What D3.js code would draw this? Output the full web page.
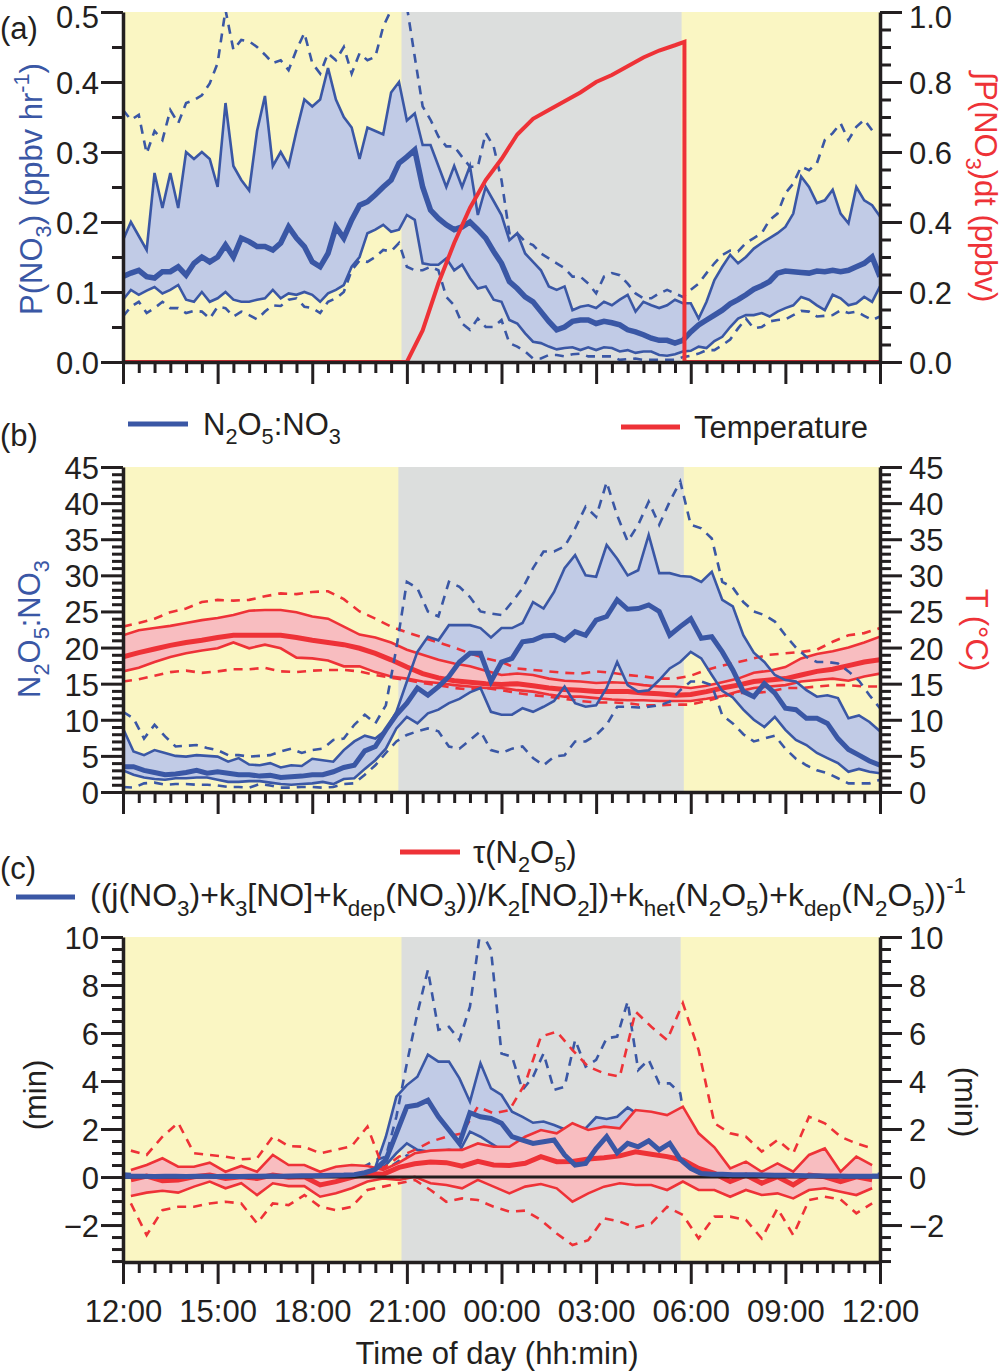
<!DOCTYPE html>
<html>
<head>
<meta charset="utf-8">
<script src="https://cdn.jsdelivr.net/npm/d3@7"></script>
<style>
  body { margin: 0; background: #fff; }
  text { font-family: "Liberation Sans", Arial, sans-serif; }
</style>
</head>
<body>
<svg id="chart" width="1002" height="1371"></svg>
<script>
// ---- x axis: hours after 12:00 -------------------------------------------
const hourTicks = d3.range(49).map(i => i / 2);
const hourLabels = ['12:00', '15:00', '18:00', '21:00', '00:00', '03:00', '06:00', '09:00', '12:00'];

// ---- (a) P(NO3), 15 min medians and percentiles ---------------------------
const pHours = d3.range(97).map(i => i / 4);
const pP10 = [0.065,0.079,0.086,0.07,0.077,0.086,0.077,0.077,0.07,0.073,0.072,0.062,0.079,0.077,0.065,0.072,0.067,0.061,0.072,0.081,0.08,0.089,0.091,0.079,0.077,0.07,0.086,0.091,0.1,0.131,0.145,0.143,0.15,0.16,0.158,0.17,0.136,0.131,0.131,0.136,0.131,0.093,0.081,0.055,0.046,0.062,0.05,0.05,0.06,
  0.027,0.022,0.015,0.005,0.005,0.01,0.01,0.008,0.011,0.012,0.008,0.008,0.008,0.008,0.003,0.004,0.005,0.003,0.003,0.003,0.003,0.003,0.007,0.009,0.012,0.017,0.017,0.024,0.032,0.048,0.062,0.048,0.05,0.058,0.06,0.061,0.067,0.073,0.072,0.065,0.066,0.067,0.074,0.07,0.072,0.066,0.06,0.065];
const pP25 = [0.089,0.103,0.096,0.102,0.107,0.098,0.103,0.11,0.089,0.086,0.1,0.086,0.091,0.1,0.089,0.086,0.086,0.089,0.091,0.103,0.091,0.098,0.096,0.1,0.096,0.086,0.098,0.103,0.11,0.136,0.15,0.184,0.189,0.196,0.186,0.189,0.21,0.203,0.141,0.139,0.139,0.148,0.131,0.139,0.12,0.105,0.108,0.089,0.086,
  0.06,0.055,0.041,0.029,0.027,0.022,0.018,0.02,0.021,0.017,0.021,0.017,0.021,0.02,0.015,0.017,0.013,0.015,0.015,0.01,0.009,0.011,0.015,0.016,0.022,0.02,0.03,0.036,0.05,0.062,0.067,0.067,0.07,0.065,0.072,0.077,0.081,0.093,0.089,0.081,0.074,0.096,0.091,0.081,0.084,0.093,0.086,0.108];
const pMed = [0.122,0.127,0.131,0.122,0.12,0.129,0.129,0.136,0.124,0.141,0.15,0.143,0.15,0.167,0.15,0.177,0.172,0.165,0.165,0.16,0.17,0.193,0.177,0.165,0.143,0.136,0.155,0.193,0.177,0.203,0.224,0.229,0.239,0.25,0.26,0.284,0.293,0.303,0.25,0.217,0.205,0.196,0.189,0.193,0.2,0.189,0.177,0.158,0.141,
  0.115,0.105,0.093,0.086,0.072,0.058,0.046,0.05,0.058,0.06,0.06,0.055,0.058,0.056,0.053,0.046,0.043,0.039,0.034,0.031,0.031,0.027,0.031,0.043,0.053,0.06,0.067,0.074,0.083,0.089,0.096,0.104,0.109,0.115,0.127,0.13,0.129,0.128,0.127,0.13,0.129,0.131,0.129,0.131,0.136,0.141,0.15,0.122];
const pP75 = [0.174,0.2,0.18,0.16,0.27,0.22,0.27,0.22,0.3,0.29,0.3,0.29,0.25,0.37,0.28,0.26,0.245,0.33,0.38,0.28,0.3,0.28,0.33,0.375,0.365,0.375,0.42,0.375,0.35,0.335,0.29,0.335,0.33,0.325,0.385,0.4,0.345,0.355,0.31,0.31,0.28,0.25,0.28,0.25,0.28,0.21,0.25,0.23,0.21,
  0.174,0.184,0.155,0.143,0.131,0.108,0.103,0.108,0.074,0.079,0.081,0.077,0.086,0.081,0.089,0.096,0.072,0.086,0.081,0.077,0.081,0.089,0.084,0.084,0.062,0.086,0.117,0.136,0.153,0.141,0.15,0.162,0.17,0.177,0.184,0.193,0.212,0.265,0.25,0.227,0.231,0.246,0.212,0.198,0.25,0.231,0.224,0.208];
const pP90 = [0.36,0.346,0.353,0.298,0.33,0.317,0.36,0.341,0.37,0.374,0.381,0.398,0.427,0.503,0.446,0.46,0.458,0.45,0.439,0.427,0.431,0.417,0.446,0.47,0.427,0.412,0.441,0.431,0.45,0.412,0.441,0.431,0.436,0.479,0.503,0.527,0.508,0.436,0.365,0.346,0.322,0.308,0.308,0.293,0.279,0.279,0.327,0.308,0.26,
  0.184,0.184,0.172,0.167,0.155,0.148,0.141,0.134,0.122,0.122,0.112,0.098,0.122,0.127,0.124,0.112,0.098,0.091,0.091,0.098,0.103,0.098,0.093,0.103,0.112,0.127,0.141,0.153,0.159,0.158,0.17,0.177,0.184,0.203,0.212,0.241,0.255,0.279,0.274,0.284,0.317,0.327,0.341,0.317,0.336,0.346,0.331,0.331];
// integrated P(NO3) over the night (right axis)
const integHours = [0, 9, 9.5, 10, 10.5, 11, 11.5, 12, 12.5, 13, 13.5, 14, 14.5, 15, 15.5, 16, 16.5, 17, 17.5, 17.8, 17.8, 24];
const integVals = [0, 0, 0.09, 0.225, 0.34, 0.44, 0.52, 0.58, 0.65, 0.695, 0.72, 0.745, 0.77, 0.8, 0.82, 0.845, 0.87, 0.89, 0.905, 0.915, 0, 0];

// ---- (b) N2O5:NO3 ratio (20 min) and temperature (30 min) ----------------
const rHours = d3.range(73).map(i => i / 3);
const rP10 = [0.7,0.6,1.2,1.3,1.0,1.1,1.1,1.0,1.0,0.9,0.7,0.7,0.6,1.1,0.9,0.6,0.6,0.7,0.7,0.6,0.7,1.1,1.2,2.4,3.7,5.4,7.0,7.9,8.4,8.8,8.4,6.3,6.0,7.2,8.4,5.8,5.4,
  6.0,6.3,4.7,3.7,4.9,5.1,7.0,7.0,7.9,9.3,11.8,11.8,11.7,11.8,12.0,12.5,14.1,15.3,15.3,14.8,10.6,9.5,8.0,7.0,7.4,7.8,6.0,4.6,3.7,3.0,2.6,1.9,1.2,1.2,1.2,1.7];
const rP25 = [3.0,2.4,2.0,1.8,1.7,1.9,1.9,2.0,2.0,1.7,1.4,1.4,1.5,1.5,1.3,1.1,1.0,1.1,1.2,1.4,1.1,1.8,1.9,3.2,4.4,6.0,8.8,10.4,9.5,10.9,11.4,12.3,12.9,13.8,14.4,11.1,10.7,
  10.7,11.6,11.1,11.8,12.6,14.6,12.3,11.8,12.0,14.4,18.0,14.8,13.9,14.1,15.5,17.1,18.0,19.4,18.5,16.2,14.0,13.1,11.4,10.0,9.0,10.4,8.6,7.2,6.5,5.4,4.7,4.0,2.8,3.2,2.8,2.6];
const rMed = [3.5,3.5,3.0,2.7,2.4,2.5,2.7,3.0,2.6,2.8,2.6,2.4,2.4,2.2,2.3,2.0,2.1,2.2,2.4,2.4,2.8,3.4,3.7,5.7,6.3,8.6,10.7,12.3,14.4,13.4,14.6,16.0,18.0,19.2,19.2,15.3,18.0,
  18.5,20.8,21.0,21.6,21.7,21.0,22.2,21.7,23.8,24.3,26.6,25.3,25.4,25.9,25.0,21.7,22.9,24.0,21.3,21.5,19.4,16.9,13.9,13.2,15.0,13.7,11.6,11.4,10.2,10.2,9.5,7.4,5.9,5.1,4.3,3.7];
const rP75 = [8.8,5.6,5.1,5.8,5.4,5.0,4.9,5.1,5.0,4.9,4.2,4.7,3.8,3.7,4.0,3.4,3.7,3.6,4.6,4.4,4.2,5.8,7.0,7.8,7.4,8.6,11.1,15.3,19.4,21.5,21.0,23.1,23.1,23.1,22.7,21.4,22.7,
  22.7,23.4,26.3,25.4,27.7,31.0,32.8,30.0,29.8,34.2,32.3,30.0,30.7,35.6,30.3,30.3,29.9,29.8,29.1,30.5,26.6,25.7,21.7,19.3,18.0,16.2,15.5,15.3,14.1,13.2,13.4,13.0,10.2,10.6,9.7,8.4];
const rP90 = [11.1,10.2,7.4,9.3,7.7,6.3,6.4,6.5,6.1,5.8,5.1,5.1,4.9,5.0,5.1,5.6,6.0,5.4,5.8,6.0,7.2,7.4,9.3,10.7,9.5,12.0,19.9,29.1,28.2,25.0,24.3,29.1,28.4,27.0,25.0,24.7,24.5,
  26.3,28.2,31.0,33.3,33.3,34.0,36.5,39.5,38.1,42.9,38.3,34.7,37.0,40.2,37.0,40.2,43.0,37.0,36.5,35.1,29.1,28.3,26.3,25.0,24.5,23.6,21.7,20.0,18.7,18.0,18.0,17.8,16.7,15.4,13.4,11.6];

const tHours = d3.range(49).map(i => i / 2);
const tP10 = [15.3,15.6,16.1,16.6,16.8,16.5,16.7,17.0,17.0,17.2,16.7,16.6,16.8,16.9,16.9,16.7,16.2,15.8,15.5,15.1,14.8,14.4,14.2,14.4,14.1,
  13.7,13.4,13.2,12.9,12.6,12.4,12.4,12.3,12.0,12.0,12.1,12.1,12.6,13.2,13.7,13.7,13.9,14.4,14.4,14.6,14.8,14.8,14.6,14.6];
const tP25 = [16.7,17.2,18.0,18.7,19.2,19.6,19.9,20.7,19.9,20.4,19.9,18.6,18.5,18.2,17.4,17.4,16.6,16.0,15.7,15.3,15.1,14.8,14.6,14.4,14.4,
  14.1,13.9,13.5,13.2,13.2,13.0,12.8,12.7,12.7,12.6,12.6,12.6,12.9,13.3,13.9,14.4,14.6,14.8,15.3,15.5,15.7,15.4,16.0,16.4];
const tMed = [18.7,19.3,19.8,20.3,20.7,21.0,21.4,21.7,21.7,21.7,21.7,21.4,21.0,20.7,20.4,19.9,19.2,18.3,17.3,16.4,15.8,15.4,15.2,15.0,14.9,
  15.0,14.7,14.4,14.2,14.1,13.9,13.9,13.9,13.7,13.6,13.4,13.5,13.9,14.4,14.8,15.3,15.5,15.7,16.2,16.7,17.0,17.5,18.0,18.3];
const tP75 = [21.7,22.4,22.7,23.0,23.4,23.8,24.1,24.5,25.1,25.2,25.2,24.9,24.3,24.0,22.9,21.8,21.4,20.7,19.7,19.0,18.3,17.8,17.4,16.8,16.2,
  16.4,16.2,15.7,15.4,15.3,15.1,15.2,15.1,14.8,14.6,14.6,14.4,14.7,15.2,15.7,16.5,16.8,17.3,18.5,19.1,19.5,20.0,20.7,21.5];
const tP90 = [22.9,23.4,24.0,24.9,25.4,26.3,26.6,26.5,26.6,27.1,27.5,27.4,27.7,27.8,26.7,25.0,24.0,22.9,22.1,21.4,20.7,20.0,19.2,18.5,18.0,
  17.1,16.9,16.7,16.5,16.4,16.7,16.5,16.2,16.0,15.7,15.7,16.1,16.9,17.5,18.0,18.5,19.0,19.2,19.4,19.7,20.8,21.7,22.0,22.7];

// ---- (c) steady-state lifetime (20 min) and tau(N2O5) (30 min) -----------
const lHours = d3.range(73).map(i => i / 3);
const lP10 = [-0.02,-0.02,-0.03,-0.02,-0.02,-0.03,-0.02,-0.02,-0.03,-0.02,-0.02,-0.02,-0.02,-0.02,-0.01,-0.02,-0.01,-0.01,0,0,0.01,0.02,
  0.03,0.05,0.08,0.3,0.6,0.9,0.8,0.8,0.7,0.7,0.6,0.9,0.8,0.7,0.6,0.5,0.45,0.4,0.4,0.35,0.25,0.15,0.15,0.25,0.4,0.3,0.35,0.3,0.35,0.3,0.25,0.15,0.08,
  0.03,0.02,0.02,0.01,0.01,0,0,0,0,-0.01,-0.01,-0.01,-0.01,-0.01,-0.01,-0.01,-0.01,-0.01];
const lP25 = [0,0,0,-0.01,0,0,0,0,0,0,0,0,0,0,0.01,0,0.01,0.01,0.02,0.02,0.03,0.04,
  0.06,0.09,0.15,0.5,0.99,1.4,1.13,1.06,1.06,1.13,1.06,1.89,1.68,1.4,1.13,0.99,0.9,0.8,0.8,0.7,0.5,0.3,0.3,0.5,0.8,0.6,0.7,0.6,0.7,0.6,0.5,0.3,0.15,
  0.06,0.05,0.05,0.04,0.04,0.03,0.03,0.03,0.02,0.02,0.02,0.02,0.01,0.01,0.01,0.01,0.01,0.01];
const lMed = [0.04,0.03,0.03,0.02,0.03,0.03,0.02,0.03,0.03,0.02,0.03,0.02,0.03,0.03,0.04,0.03,0.04,0.05,0.05,0.06,0.07,0.08,
  0.1,0.18,0.32,0.71,1.82,2.93,3.0,3.2,2.51,1.96,1.4,2.68,2.51,2.44,2.24,1.68,1.54,1.4,1.47,1.54,0.92,0.5,0.57,1.19,1.68,1.01,1.4,1.26,1.51,1.13,1.4,0.74,0.36,
  0.15,0.12,0.12,0.1,0.1,0.09,0.08,0.07,0.07,0.06,0.05,0.05,0.04,0.04,0.03,0.03,0.03,0.03];
const lP75 = [0.08,0.07,0.06,0.07,0.06,0.06,0.07,0.06,0.07,0.06,0.07,0.06,0.07,0.08,0.08,0.07,0.08,0.09,0.1,0.1,0.12,0.13,
  0.15,0.22,0.4,1.68,3.35,3.83,4.18,5.1,4.81,4.81,4.11,3.14,4.74,3.69,3.42,2.72,2.51,2.26,2.31,2.17,1.99,2.1,2.03,2.49,2.42,2.51,2.9,2.6,2.5,2.4,2.3,1.6,0.7,
  0.3,0.25,0.22,0.2,0.2,0.18,0.17,0.15,0.14,0.13,0.12,0.11,0.1,0.1,0.09,0.09,0.08,0.08];
const lP90 = [0.15,0.12,0.1,0.12,0.1,0.11,0.1,0.12,0.1,0.11,0.12,0.1,0.12,0.13,0.14,0.13,0.15,0.16,0.18,0.2,0.22,0.25,
  0.3,0.45,0.7,0.85,2.51,4.74,6.82,8.63,6.13,6.26,5.71,7.1,10.3,9.46,5.15,5.01,3.63,4.18,5.15,3.63,3.76,5.71,4.6,4.88,5.78,5.85,7.31,4.46,4.88,3.9,3.9,3.49,0.85,
  0.5,0.4,0.35,0.3,0.3,0.28,0.25,0.22,0.2,0.2,0.18,0.17,0.16,0.15,0.15,0.14,0.13,0.13];

const tauHours = d3.range(48).map(i => 0.25 + i / 2);
const tauP10 = [-1.1,-2.42,-1.38,-1.24,-1.24,-1.1,-1.03,-1.1,-1.93,-1.1,-1.17,-0.75,-1.24,-1.38,-1.24,-0.54,-0.4,-0.26,-0.12,-0.54,-1.03,-0.89,-0.96,-1.24,
  -1.44,-1.4,-1.79,-2.35,-2.83,-2.63,-1.72,-1.86,-2.1,-1.93,-1.24,-1.58,-2.56,-1.65,-1.65,-1.79,-2.56,-1.31,-2.42,-0.96,-0.82,-0.93,-1.51,-1.1];
const tauP25 = [-0.79,-0.65,-0.57,-0.65,-0.4,-0.19,-0.47,-0.26,-0.75,-0.26,-0.38,-0.38,-0.82,-0.68,-0.47,-0.19,-0.06,-0.12,0.01,-0.26,-0.33,-0.47,-0.12,-0.4,
  -0.68,-0.4,-0.29,-0.47,-1.03,-0.68,-0.4,-0.26,-0.33,-0.33,-0.54,-0.19,-0.54,-0.54,-0.82,-0.54,-0.75,-0.68,-0.89,-0.54,-0.47,-0.61,-0.75,-0.47];
const tauMed = [-0.12,0.04,-0.15,-0.12,0.01,0.08,-0.06,0.01,-0.06,0.08,-0.01,0.01,-0.33,-0.19,-0.01,0.15,0.12,0.4,0.55,0.63,0.6,0.45,0.65,0.5,
  0.48,0.57,0.85,0.64,0.65,0.75,0.8,0.88,1.05,0.95,0.85,0.71,0.36,0.15,-0.19,0.08,-0.26,0.01,-0.33,0.08,0.01,-0.19,0.01,-0.12];
const tauP75 = [0.29,0.5,0.78,0.43,0.43,0.6,0.22,0.46,0.22,0.92,0.5,0.5,0.22,0.43,0.5,0.46,0.3,0.6,0.99,1.1,1.13,1.13,1.4,1.26,
  1.26,1.68,1.96,1.82,2.24,1.96,2.1,2.03,2.79,2.72,2.58,2.93,1.82,1.24,0.36,0.64,0.22,0.57,0.22,0.92,1.19,0.22,0.85,0.5];
const tauP90 = [1.1,0.92,1.68,2.26,0.99,0.92,0.85,0.74,0.78,1.68,1.29,1.26,0.99,1.13,1.29,2.1,0.36,0.85,1.13,1.47,1.68,1.82,2.93,2.65,
  2.79,3.9,5.85,6.06,5.29,4.6,4.32,4.18,6.89,6.26,5.71,7.24,5.29,2.24,1.82,1.68,1.06,1.54,0.99,2.51,2.24,1.68,1.4,1.19];

// ---- styling -----------------------------------------------------------
const INK = '#231f20';
const BLUE = '#3a57a5', BLUE_FILL = '#c1cbe6';
const RED = '#ee3237', RED_FILL = '#f8bdc0';
const DAY = '#faf6c3', NIGHT = '#dcdedd';
const FS = 31;

const svg = d3.select('#chart');
const X0 = 123, X1 = 880;
const x = d3.scaleLinear().domain([0, 24]).range([X0, X1]);

/**
 * Writes text with sub/superscript parts into a text element.
 * @param {d3.Selection} sel - text element
 * @param {Array} parts - [string, 'sub' | 'sup' | ''] pairs
 * @param {number} size - base font size
 */
function richText(sel, parts, size) {
    let shift = 0;
    parts.forEach(([str, mode]) => {
        const target = mode === 'sub' ? 0.3 * size : mode === 'sup' ? -0.42 * size : 0;
        const t = sel.append('tspan').text(str).attr('dy', target - shift);
        if (mode) t.attr('font-size', size * 0.7);
        shift = target;
    });
    return sel;
}

function label(x0, y0, parts, opts = {}) {
    const size = opts.size || FS;
    const t = svg.append('text')
        .attr('transform', `translate(${x0},${y0})` + (opts.rotate ? ` rotate(${opts.rotate})` : ''))
        .attr('font-size', size)
        .attr('fill', opts.color || INK)
        .attr('text-anchor', opts.anchor || 'start');
    return richText(t, parts, size);
}

function panel(id, top, bottom, night) {
    svg.append('clipPath').attr('id', 'clip-' + id)
        .append('rect').attr('x', X0).attr('y', top).attr('width', X1 - X0).attr('height', bottom - top);
    svg.append('rect').attr('x', X0).attr('y', top).attr('width', X1 - X0).attr('height', bottom - top).attr('fill', DAY);
    svg.append('rect').attr('x', x(night[0])).attr('y', top).attr('width', x(night[1]) - x(night[0]))
        .attr('height', bottom - top).attr('fill', NIGHT);
    return svg.append('g').attr('clip-path', `url(#clip-${id})`);
}

function band(g, hours, lo, hi, y, fill) {
    g.append('path').datum(d3.range(hours.length))
        .attr('d', d3.area().x(i => x(hours[i])).y0(i => y(lo[i])).y1(i => y(hi[i])))
        .attr('fill', fill);
}

function series(g, hours, vals, y, color, width, dashed) {
    g.append('path').datum(vals)
        .attr('d', d3.line().x((d, i) => x(hours[i])).y(d => y(d)))
        .attr('fill', 'none')
        .attr('stroke', color)
        .attr('stroke-width', width)
        .attr('stroke-dasharray', dashed ? '9,7' : null);
}

function styleAxis(gA) {
    gA.attr('font-size', FS).attr('font-family', '"Liberation Sans", Arial, sans-serif');
    gA.select('.domain').attr('stroke', INK).attr('stroke-width', 3.5);
    gA.selectAll('.tick line').attr('stroke', INK).attr('stroke-width', 3);
    gA.selectAll('.tick text').attr('fill', INK);
}

function yAxis(scale, side, ticks, isMajor, fmt) {
    const ax = (side === 'left' ? d3.axisLeft(scale) : d3.axisRight(scale))
        .tickValues(ticks).tickSize(22).tickSizeOuter(0)
        .tickPadding(side === 'left' ? 2 : 7)
        .tickFormat(v => isMajor(v) ? fmt(v) : '');
    const gA = svg.append('g').attr('transform', `translate(${side === 'left' ? X0 : X1},0)`).call(ax);
    styleAxis(gA);
    // keep the label at the very top of the page inside the picture
    gA.selectAll('.tick text').attr('dy', v => scale(v) < 20 ? '0.5em' : '0.37em');
    gA.selectAll('.tick line').attr('x2', v => (side === 'left' ? -1 : 1) * (isMajor(v) ? 22 : 11));
}

function xAxis(bottom, withLabels) {
    const ax = d3.axisBottom(x).tickValues(hourTicks).tickSize(22).tickSizeOuter(0).tickPadding(16)
        .tickFormat(v => withLabels && v % 3 === 0 ? hourLabels[v / 3] : '');
    const gA = svg.append('g').attr('transform', `translate(0,${bottom})`).call(ax);
    styleAxis(gA);
    gA.selectAll('.tick line').attr('y2', v => v % 3 === 0 ? 22 : 11);
}

const near = (v, step) => Math.abs(v / step - Math.round(v / step)) < 1e-6;

// ======================= panel (a) =======================
const yA = d3.scaleLinear().domain([0, 0.5]).range([362, 12]);
const yAr = d3.scaleLinear().domain([0, 1]).range([362, 12]);
const gA = panel('a', 12, 362, [8.83, 17.71]);
band(gA, pHours, pP25, pP75, yA, BLUE_FILL);
series(gA, pHours, pP10, yA, BLUE, 2.6, true);
series(gA, pHours, pP90, yA, BLUE, 2.6, true);
series(gA, pHours, pP25, yA, BLUE, 2.6);
series(gA, pHours, pP75, yA, BLUE, 2.6);
series(gA, pHours, pMed, yA, BLUE, 5.5);
series(svg, integHours, integVals, yAr, RED, 4);
yAxis(yA, 'left', d3.range(11).map(i => i * 0.05), v => near(v, 0.1), d3.format('.1f'));
yAxis(yAr, 'right', d3.range(21).map(i => i * 0.05), v => near(v, 0.2), d3.format('.1f'));
xAxis(362, false);

label(0, 39, [['(a)', '']]);
label(42, 189, [['P(NO', ''], ['3', 'sub'], [') (ppbv hr', ''], ['-1', 'sup'], [')', '']],
    { rotate: -90, anchor: 'middle', color: BLUE });
label(975, 187, [['\u222BP(NO', ''], ['3', 'sub'], [')dt (ppbv)', '']],
    { rotate: 90, anchor: 'middle', color: RED });

// ======================= panel (b) =======================
const yB = d3.scaleLinear().domain([0, 45]).range([792, 467]);
const gB = panel('b', 467, 792, [8.73, 17.78]);
band(gB, rHours, rP25, rP75, yB, BLUE_FILL);
band(gB, tHours, tP25, tP75, yB, RED_FILL);
series(gB, tHours, tP10, yB, RED, 2.6, true);
series(gB, tHours, tP90, yB, RED, 2.6, true);
series(gB, tHours, tP25, yB, RED, 2.6);
series(gB, tHours, tP75, yB, RED, 2.6);
series(gB, tHours, tMed, yB, RED, 5);
series(gB, rHours, rP10, yB, BLUE, 2.6, true);
series(gB, rHours, rP90, yB, BLUE, 2.6, true);
series(gB, rHours, rP25, yB, BLUE, 2.6);
series(gB, rHours, rP75, yB, BLUE, 2.6);
series(gB, rHours, rMed, yB, BLUE, 5);
const ticksB = d3.range(46);
yAxis(yB, 'left', ticksB, v => v % 5 === 0, d3.format('d'));
yAxis(yB, 'right', ticksB, v => v % 5 === 0, d3.format('d'));
xAxis(792, false);

label(0, 446, [['(b)', '']]);
svg.append('line').attr('x1', 128).attr('x2', 188).attr('y1', 424).attr('y2', 424)
    .attr('stroke', BLUE).attr('stroke-width', 5);
label(203, 435, [['N', ''], ['2', 'sub'], ['O', ''], ['5', 'sub'], [':NO', ''], ['3', 'sub']]);
svg.append('line').attr('x1', 621).attr('x2', 680).attr('y1', 427).attr('y2', 427)
    .attr('stroke', RED).attr('stroke-width', 5);
label(694, 438, [['Temperature', '']]);
label(40, 629, [['N', ''], ['2', 'sub'], ['O', ''], ['5', 'sub'], [':NO', ''], ['3', 'sub']],
    { rotate: -90, anchor: 'middle', color: BLUE });
label(966, 630, [['T (\u00B0C)', '']], { rotate: 90, anchor: 'middle', color: RED });

// ======================= panel (c) =======================
const yC = d3.scaleLinear().domain([-3.54, 10]).range([1262, 937]);
const gC = panel('c', 937, 1262, [8.83, 17.68]);
band(gC, lHours, lP25, lP75, yC, BLUE_FILL);
series(gC, lHours, lP10, yC, BLUE, 2.6, true);
series(gC, lHours, lP90, yC, BLUE, 2.6, true);
series(gC, lHours, lP25, yC, BLUE, 2.6);
series(gC, lHours, lP75, yC, BLUE, 2.6);
band(gC, tauHours, tauP25, tauP75, yC, RED_FILL);
series(gC, tauHours, tauP10, yC, RED, 2.6, true);
series(gC, tauHours, tauP90, yC, RED, 2.6, true);
series(gC, tauHours, tauP25, yC, RED, 2.6);
series(gC, tauHours, tauP75, yC, RED, 2.6);
series(gC, tauHours, tauMed, yC, RED, 5);
gC.append('line').attr('x1', X0).attr('x2', X1).attr('y1', yC(0)).attr('y2', yC(0))
    .attr('stroke', INK).attr('stroke-width', 3);
series(gC, lHours, lMed, yC, BLUE, 5);
const ticksC = d3.range(-7, 21).map(i => i / 2);
yAxis(yC, 'left', ticksC, v => near(v, 2), d3.format('d'));
yAxis(yC, 'right', ticksC, v => near(v, 2), d3.format('d'));
xAxis(1262, true);

label(0, 879, [['(c)', '']]);
svg.append('line').attr('x1', 400).attr('x2', 460).attr('y1', 852).attr('y2', 852)
    .attr('stroke', RED).attr('stroke-width', 5);
label(473, 863, [['\u03C4(N', ''], ['2', 'sub'], ['O', ''], ['5', 'sub'], [')', '']]);
svg.append('line').attr('x1', 16).attr('x2', 75).attr('y1', 897).attr('y2', 897)
    .attr('stroke', BLUE).attr('stroke-width', 5);
label(90, 906, [['((j(NO', ''], ['3', 'sub'], [')+k', ''], ['3', 'sub'], ['[NO]+k', ''], ['dep', 'sub'],
    ['(NO', ''], ['3', 'sub'], ['))/K', ''], ['2', 'sub'], ['[NO', ''], ['2', 'sub'], ['])+k', ''], ['het', 'sub'],
    ['(N', ''], ['2', 'sub'], ['O', ''], ['5', 'sub'], [')+k', ''], ['dep', 'sub'], ['(N', ''], ['2', 'sub'],
    ['O', ''], ['5', 'sub'], ['))', ''], ['-1', 'sup']], { size: 32 });
label(46, 1095, [['(min)', '']], { rotate: -90, anchor: 'middle' });
label(955, 1102, [['(min)', '']], { rotate: 90, anchor: 'middle' });

label(497, 1364, [['Time of day (hh:min)', '']], { anchor: 'middle' });
</script>
</body>
</html>
